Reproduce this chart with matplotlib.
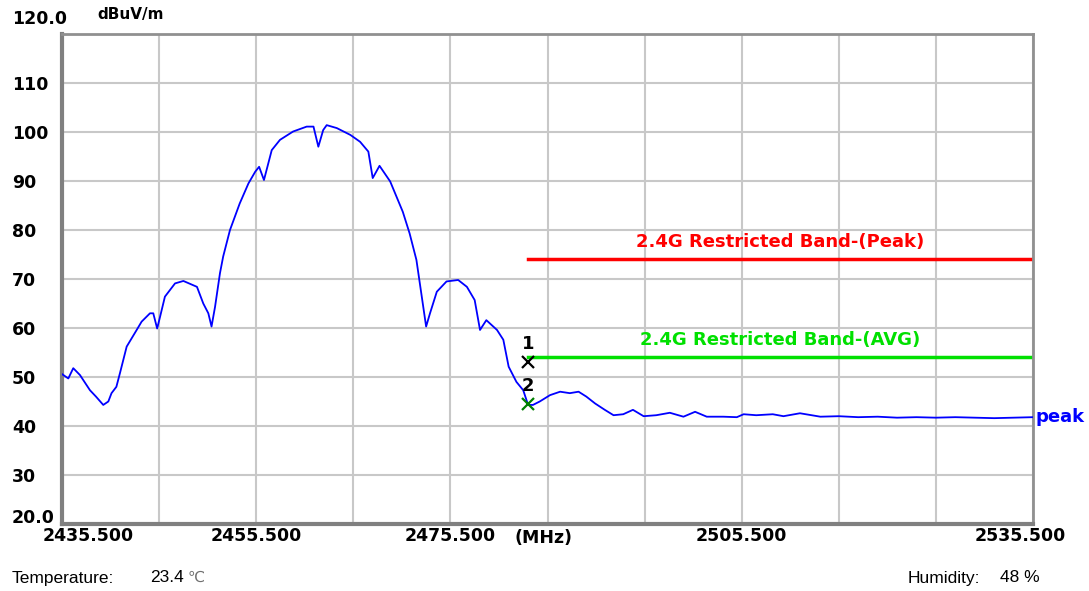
import numpy as np
import matplotlib
matplotlib.use('Agg')
import matplotlib.pyplot as plt
from matplotlib.transforms import ScaledTranslation

plt.rcParams['font.family'] = ['Liberation Sans', 'DejaVu Sans']
BOLD = ['DejaVu Sans']

# measured trace (MHz, dBuV/m)
freq = [2435.5, 2436.15, 2436.66, 2437.35, 2438.38, 2439.0, 2439.75, 2440.27, 2440.6, 2441.1,
        2441.47, 2442.16, 2443.19, 2443.7, 2444.56, 2444.9, 2445.3, 2445.6, 2446.1, 2447.14,
        2448.0, 2449.4, 2450.05, 2450.57, 2450.9, 2451.26, 2451.77, 2452.1, 2452.8, 2453.8,
        2454.7, 2455.4, 2455.8, 2456.3, 2457.1, 2457.95, 2459.3, 2460.7, 2461.4, 2461.9,
        2462.4, 2462.76, 2463.8, 2465.2, 2466.2, 2467.05, 2467.5, 2468.2, 2469.3, 2470.6,
        2471.3, 2472.0, 2472.5, 2473.0, 2473.4, 2474.1, 2475.1, 2476.3, 2477.2, 2478.0,
        2478.55, 2479.2, 2480.3, 2480.95, 2481.5, 2482.3, 2483.0, 2483.5, 2484.0, 2484.7,
        2485.76, 2486.8, 2487.8, 2488.7, 2489.5, 2490.4, 2491.4, 2492.3, 2493.3, 2494.3,
        2495.4, 2496.7, 2498.1, 2499.5, 2500.7, 2501.9, 2503.6, 2505.0, 2505.7, 2507.0,
        2508.7, 2509.8, 2511.5, 2513.6, 2515.5, 2517.5, 2519.5, 2521.5, 2523.5, 2525.5,
        2527.5, 2529.5, 2531.5, 2533.5, 2535.5]
level = [50.6, 49.7, 51.8, 50.4, 47.3, 46.0, 44.3, 45.0, 46.7, 48.0,
         50.8, 56.2, 59.6, 61.3, 63.0, 63.0, 59.9, 62.3, 66.4, 69.1,
         69.6, 68.4, 65.0, 63.0, 60.3, 64.3, 71.2, 74.6, 80.0, 85.4,
         89.5, 91.9, 92.9, 90.2, 96.3, 98.4, 100.1, 101.1, 101.1, 97.0,
         100.4, 101.4, 100.8, 99.4, 98.0, 96.0, 90.6, 93.1, 89.9, 83.7,
         79.3, 73.9, 67.1, 60.3, 63.0, 67.4, 69.5, 69.8, 68.4, 65.7,
         59.6, 61.6, 59.6, 57.6, 52.1, 49.0, 47.3, 44.3, 44.3, 45.0,
         46.3, 47.0, 46.7, 47.0, 46.0, 44.6, 43.3, 42.2, 42.4, 43.3,
         42.0, 42.2, 42.7, 41.9, 42.9, 41.9, 41.9, 41.8, 42.4, 42.2,
         42.4, 42.0, 42.6, 41.9, 42.0, 41.8, 41.9, 41.7, 41.8, 41.7,
         41.8, 41.7, 41.6, 41.7, 41.8]

limit_start = 2483.5
limit_end = 2535.5
peak_limit = 74.0
avg_limit = 54.0
peak_label = '2.4G Restricted Band-(Peak)'
avg_label = '2.4G Restricted Band-(AVG)'

marker_freq = [2483.5, 2483.5]
marker_level = [53.0, 44.5]
marker_names = ['1', '2']
marker_colors = ['black', '#008000']

x_ticks = [2435.5, 2455.5, 2475.5, 2505.5, 2535.5]
x_ticklabels = ['2435.500', '2455.500', '2475.500', '2505.500', '2535.500']
y_ticks = [20, 30, 40, 50, 60, 70, 80, 90, 100, 110, 120]
y_ticklabels = ['20.0', '30', '40', '50', '60', '70', '80', '90', '100', '110', '120.0']

fig = plt.figure(figsize=(10.89, 5.91), dpi=100)
ax = fig.add_axes([62 / 1089, 67 / 591, 971 / 1089, 490 / 591])
ax.set_xlim(2435.5, 2535.5)
ax.set_ylim(20, 120)

# grid
for gx in np.arange(2435.5, 2535.6, 10):
    ax.axvline(gx, color='#c8c8c8', lw=1.5, zorder=0)
for gy in range(20, 121, 10):
    ax.axhline(gy, color='#c8c8c8', lw=1.5, zorder=0)

for side in ['left', 'bottom']:
    ax.spines[side].set_linewidth(3)
    ax.spines[side].set_color('#808080')
for side in ['top', 'right']:
    ax.spines[side].set_linewidth(2)
    ax.spines[side].set_color('#909090')

ax.plot(freq, level, color='#0000ff', lw=1.3, zorder=3)

ax.plot([limit_start, limit_end], [peak_limit, peak_limit], color='#ff0000', lw=2.5, zorder=2)
ax.plot([limit_start, limit_end], [avg_limit, avg_limit], color='#00e000', lw=2.5, zorder=2)
ax.text(2509.5, peak_limit + 1.8, peak_label, color='#ff0000', fontsize=13, family=BOLD,
        fontweight='bold', ha='center', va='bottom')
ax.text(2509.5, avg_limit + 1.8, avg_label, color='#00e000', fontsize=13, family=BOLD,
        fontweight='bold', ha='center', va='bottom')

for f, l, n, c in zip(marker_freq, marker_level, marker_names, marker_colors):
    ax.plot(f, l, marker='x', color=c, ms=9, mew=1.6, zorder=4)
    ax.text(f, l + 1.8, n, color='black', fontsize=13, fontweight='bold', family=BOLD,
            ha='center', va='bottom', zorder=5)

ax.text(1.003, 41.8, 'peak', color='#0000ff', fontsize=13, fontweight='bold', family=BOLD,
        ha='left', va='center', transform=ax.get_yaxis_transform())

ax.set_xticks(x_ticks)
ax.set_xticklabels(x_ticklabels, fontsize=12.5, fontweight='bold', family=BOLD)
ax.set_yticks(y_ticks)
ax.set_yticklabels(y_ticklabels, fontsize=12.5, fontweight='bold', family=BOLD, ha='left')
ax.tick_params(length=0)
ax.tick_params(axis='y', pad=36)
ax.tick_params(axis='x', pad=2)

xl = ax.get_xticklabels()
xl[0].set_transform(xl[0].get_transform() + ScaledTranslation(26 / 100, 0, fig.dpi_scale_trans))
xl[-1].set_transform(xl[-1].get_transform() + ScaledTranslation(-13 / 100, 0, fig.dpi_scale_trans))
yl = ax.get_yticklabels()
yl[0].set_transform(yl[0].get_transform() + ScaledTranslation(0, 8 / 100, fig.dpi_scale_trans))
yl[-1].set_transform(yl[-1].get_transform() + ScaledTranslation(0, 17 / 100, fig.dpi_scale_trans))

ax.text(2482.15, 20, '(MHz)', fontsize=12.5, fontweight='bold', family=BOLD, ha='left', va='top',
        transform=ax.transData + ScaledTranslation(0, -5 / 100, fig.dpi_scale_trans))
fig.text(97 / 1089, 1 - 15 / 591, 'dBuV/m', fontsize=11, fontweight='bold', family=BOLD,
         ha='left', va='center')

fig.text(12 / 1089, 1 - 578 / 591, 'Temperature:', fontsize=12.5, ha='left', va='center')
fig.text(150 / 1089, 1 - 578 / 591, '23.4', fontsize=12.5, ha='left', va='center')
fig.text(188 / 1089, 1 - 578 / 591, '℃', fontsize=11, color='#707070', ha='left', va='center')
fig.text(908 / 1089, 1 - 578 / 591, 'Humidity:', fontsize=12.5, ha='left', va='center')
fig.text(1000 / 1089, 1 - 578 / 591, '48 %', fontsize=12.5, ha='left', va='center')

fig.savefig('out.png', dpi=100)
